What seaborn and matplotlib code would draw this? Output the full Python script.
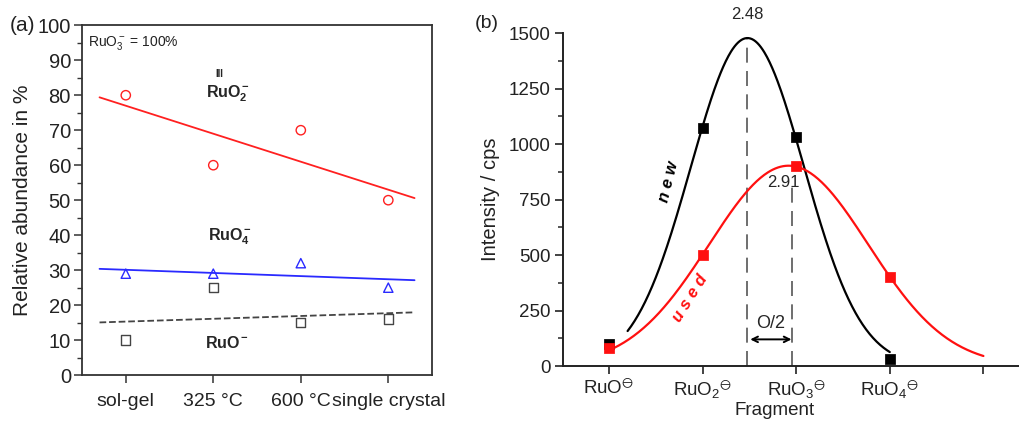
import numpy as np
import pandas as pd
import matplotlib
matplotlib.use("Agg")
import matplotlib.pyplot as plt
import seaborn as sns

# ---- data, panel (a) ----
categories = ["sol-gel", "325 °C", "600 °C", "single crystal"]
ruo2_vals = [80, 60, 70, 50]
ruo4_vals = [29, 29, 32, 25]
ruo_vals = [10, 25, 15, 16]

# ---- data, panel (b) ----
fragments = [r"RuO$^{\ominus}$", r"RuO$_2$$^{\ominus}$", r"RuO$_3$$^{\ominus}$", r"RuO$_4$$^{\ominus}$", ""]
new_vals = [100, 1070, 1030, 30]
used_vals = [80, 500, 900, 400]

sns.set_style("ticks")
plt.rcParams["font.family"] = ["Liberation Sans", "DejaVu Sans"]
plt.rcParams["mathtext.fontset"] = "custom"
plt.rcParams["mathtext.rm"] = "Liberation Sans"
plt.rcParams["mathtext.it"] = "Liberation Sans:italic"
plt.rcParams["mathtext.bf"] = "Liberation Sans:bold"
plt.rcParams["mathtext.default"] = "regular"

fig = plt.figure(figsize=(10.19, 4.21), dpi=100)
ax1 = fig.add_axes([0.0805, 0.109, 0.3435, 0.831])
ax2 = fig.add_axes([0.5525, 0.1306, 0.4475, 0.791])

# ---------------- panel (a) ----------------
pos = np.arange(1, len(categories) + 1)
series = [
    (ruo2_vals, "#ff2020", "o", "-"),
    (ruo4_vals, "#2a2aff", "^", "-"),
    (ruo_vals, "#444444", "s", "--"),
]
xfit = np.array([0.7, 4.3])
for vals, col, mk, ls in series:
    sns.scatterplot(x=pos, y=vals, ax=ax1, marker=mk, s=45,
                    facecolors="none", edgecolors=col, linewidths=1.0, zorder=3)
    k, b = np.polyfit(pos, vals, 1)
    sns.lineplot(x=xfit, y=k * xfit + b, ax=ax1, color=col, lw=1.3,
                 linestyle=ls, zorder=2)

ax1.set_xlim(0.5, 4.5)
ax1.set_ylim(0, 100)
ax1.set_xticks(pos)
ax1.set_xticklabels(categories, fontsize=14, color="#222222")
ax1.set_yticks(np.arange(0, 101, 10))
ax1.set_yticks(np.arange(5, 100, 10), minor=True)
ax1.tick_params(axis="y", labelsize=14.5, labelcolor="#222222", direction="out",
                length=6, width=1.1, color="#333333", pad=2)
ax1.tick_params(axis="y", which="minor", length=3.5, width=1.0, color="#333333")
ax1.tick_params(axis="x", direction="out", length=6, width=1.1, color="#333333", pad=7)
for sp in ax1.spines.values():
    sp.set_color("#333333")
    sp.set_linewidth(1.3)
ax1.set_ylabel("Relative abundance in %", fontsize=15, color="#222222", labelpad=4)
ax1.set_xlabel("")

ax1.text(0.57, 95, r"RuO$_3^-$ = 100%", fontsize=10, color="#222222", va="center")
ax1.text(2.17, 80.5, r"RuO$_2^-$", fontsize=11.5, fontweight="bold", ha="center", va="center")
ax1.text(2.07, 86.0, "III", fontsize=7, fontweight="bold", ha="center", va="center")
ax1.text(2.19, 39.5, r"RuO$_4^-$", fontsize=11.5, fontweight="bold", ha="center", va="center")
ax1.text(2.16, 9.3, r"RuO$^-$", fontsize=11.5, fontweight="bold", ha="center", va="center")
fig.text(0.010, 0.94, "(a)", fontsize=15, va="center", color="#222222")

# ---------------- panel (b) ----------------
fpos = np.arange(1, len(fragments) + 1)
xdat = fpos[:4].astype(float)


def gauss_fit(x, y):
    mus = np.linspace(1.5, 4.0, 501)
    sig = np.linspace(0.3, 2.0, 341)
    M, S = np.meshgrid(mus, sig)
    G = np.exp(-(x[None, None, :] - M[..., None]) ** 2 / (2 * S[..., None] ** 2))
    A = (G * y).sum(-1) / (G * G).sum(-1)
    sse = ((A[..., None] * G - y) ** 2).sum(-1)
    i, j = np.unravel_index(np.argmin(sse), sse.shape)
    return A[i, j], M[i, j], S[i, j]


fits = {}
for name, vals, col, x0, x1 in [("new", new_vals, "black", 1.2, 4.0),
                                 ("used", used_vals, "#ff1010", 1.0, 5.0)]:
    y = np.array(vals, dtype=float)
    A, mu, s = gauss_fit(xdat, y)
    fits[name] = (A, mu, s)
    xc = np.linspace(x0, x1, 300)
    df = pd.DataFrame({"x": xc, "y": A * np.exp(-(xc - mu) ** 2 / (2 * s ** 2))})
    sns.lineplot(data=df, x="x", y="y", ax=ax2, color=col, lw=1.6, zorder=2)
    sns.scatterplot(x=xdat, y=y, ax=ax2, marker="s", s=45, color=col,
                    edgecolor=col, zorder=4)

A_n, mu_n, _ = fits["new"]
A_u, mu_u, _ = fits["used"]
ax2.plot([mu_n, mu_n], [0, A_n], color="#555555", lw=1.2, ls=(0, (9, 5)), zorder=1)
ax2.plot([mu_u + 0.04, mu_u + 0.04], [0, A_u * 0.9], color="#555555", lw=1.2,
         ls=(0, (9, 5)), zorder=1)
ax2.annotate("", xy=(mu_u + 0.06, 120), xytext=(mu_n, 120),
             arrowprops=dict(arrowstyle="<->", color="black", lw=1.4))
ax2.text((mu_n + mu_u) / 2 + 0.03, 190, "O/2", fontsize=13, ha="center", va="center")
ax2.text(mu_n, 1585, "2.48", fontsize=12, ha="center", va="center")
ax2.text(mu_u - 0.06, 825, "2.91", fontsize=12, ha="center", va="center")
ax2.text(1.64, 830, "n e w", fontsize=12, fontweight="bold", style="italic",
         rotation=76, ha="center", va="center", color="black")
ax2.text(1.87, 305, "u s e d", fontsize=12, fontweight="bold", style="italic",
         rotation=58, ha="center", va="center", color="#ff1010")

ax2.set_xlim(0.51, 5.38)
ax2.set_ylim(0, 1500)
ax2.set_xticks(fpos)
ax2.set_xticklabels(fragments, fontsize=13.5, color="#222222")
ax2.set_yticks(np.arange(0, 1501, 250))
ax2.set_yticks(np.arange(125, 1500, 250), minor=True)
ax2.tick_params(axis="both", labelsize=13.5, labelcolor="#222222", direction="out",
                length=6, width=1.2, color="#222222", pad=3)
ax2.tick_params(axis="y", which="minor", length=3.5, width=1.1)
sns.despine(ax=ax2)
for sp in ["left", "bottom"]:
    ax2.spines[sp].set_linewidth(1.4)
    ax2.spines[sp].set_color("#222222")
ax2.set_xlabel("Fragment", fontsize=13.5, color="#222222", va="top")
ax2.xaxis.set_label_coords(0.465, -0.108)
ax2.set_ylabel("Intensity / cps", fontsize=14.5, color="#222222", labelpad=6)
fig.text(0.466, 0.945, "(b)", fontsize=14, va="center", color="#222222")

fig.savefig("out.png", dpi=100)
